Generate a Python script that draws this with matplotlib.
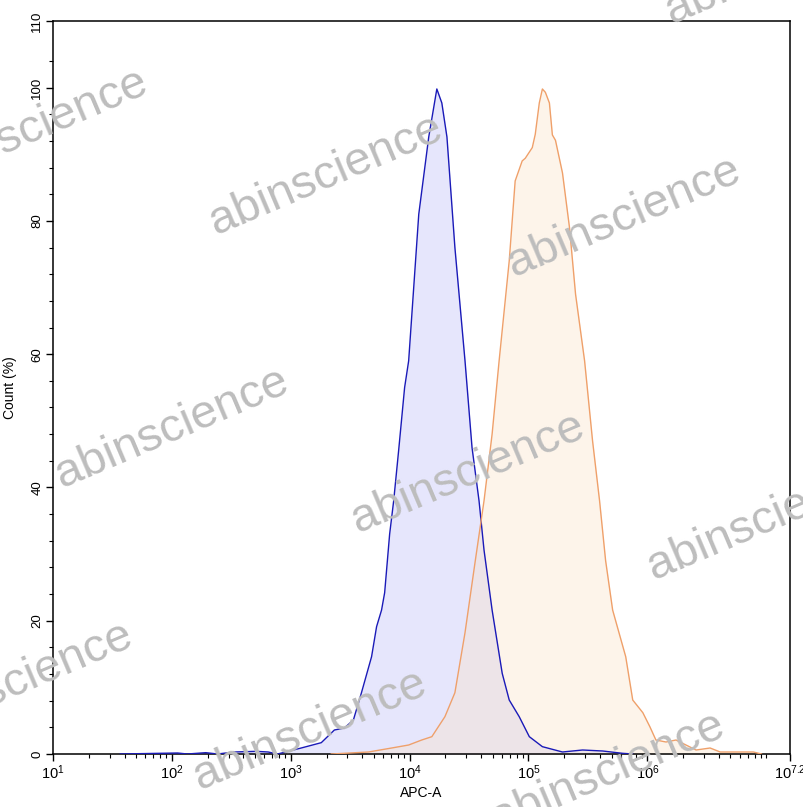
import numpy as np
import matplotlib
matplotlib.use("Agg")
import matplotlib.pyplot as plt
from matplotlib.ticker import FixedLocator, NullFormatter

plt.rcParams['font.family'] = ['Liberation Sans', 'DejaVu Sans']
plt.rcParams['mathtext.fontset'] = 'custom'
plt.rcParams['mathtext.rm'] = 'Liberation Sans'
plt.rcParams['mathtext.it'] = 'Liberation Sans:italic'

# blue histogram: log10(APC-A), count (%)
blue_log = [1.566, 2.048, 2.13, 2.285, 2.386, 2.52, 2.71, 2.81, 2.89, 3.0,
            3.088, 3.257, 3.367, 3.451, 3.527, 3.595, 3.680, 3.722, 3.764, 3.79,
            3.832, 3.866, 3.908, 3.958, 3.992, 4.077, 4.161, 4.229, 4.271, 4.314,
            4.381, 4.466, 4.525, 4.584, 4.626, 4.694, 4.779, 4.838, 4.922, 5.007,
            5.117, 5.286, 5.455, 5.624, 5.793, 5.877]
blue_pct = [0, 0.15, 0, 0.2, 0, 0.3, 0.4, 0.3, 0, 0.5,
            0.9, 1.7, 3.6, 3.9, 5.1, 9.2, 14.6, 19.1, 21.6, 24.2,
            33, 38, 45.6, 55, 59, 81, 92.6, 99.8, 97.7, 92.6,
            76, 59, 46, 38, 30.6, 21.6, 12.1, 8.1, 5.6, 2.6,
            1.1, 0.3, 0.6, 0.45, 0.1, 0]

# orange histogram
orange_log = [3.341, 3.654, 3.849, 3.992, 4.102, 4.187, 4.297, 4.381, 4.466, 4.550,
              4.626, 4.694, 4.753, 4.838, 4.888, 4.947, 4.973, 5.032, 5.057, 5.091,
              5.117, 5.142, 5.176, 5.201, 5.227, 5.286, 5.345, 5.396, 5.472, 5.539,
              5.598, 5.649, 5.708, 5.818, 5.877, 5.962, 6.021, 6.072, 6.157, 6.241,
              6.325, 6.410, 6.528, 6.613, 6.892, 6.96]
orange_pct = [0, 0.3, 0.9, 1.35, 2.1, 2.6, 5.6, 9.2, 18.2, 28.7,
              38, 48, 59, 74, 86, 89, 89.4, 91, 93, 97.7,
              99.8, 99.3, 97.7, 92.9, 92.1, 87.2, 79, 69, 59, 47,
              38, 29, 21.6, 14.6, 8.1, 6.2, 4.1, 2.1, 1.8, 2.1,
              1.35, 0.6, 0.9, 0.3, 0.3, 0]

x_major_exp = [1, 2, 3, 4, 5, 6, 7.2]
x_major_labels = ['1', '2', '3', '4', '5', '6', '7.2']
y_major = [0, 20, 40, 60, 80, 100, 110]

watermark_xy = [(31, 129), (326, 175), (624, 217), (782, -36),
                (172, 428), (468, 473), (764, 520), (922, 259),
                (16, 682), (310, 730), (608, 772)]

W, H = 804, 807
fig = plt.figure(figsize=(W / 100, H / 100), dpi=100)
ax = fig.add_axes([53 / W, 1 - 754 / H, (790 - 53) / W, (754 - 21) / H])

bx = 10 ** np.array(blue_log)
ox = 10 ** np.array(orange_log)
ax.fill_between(bx, blue_pct, 0, color='#E6E6FC', lw=0, zorder=1)
ax.fill_between(ox, orange_pct, 0, color='#FCE1C3', alpha=0.35, lw=0, zorder=2)
ax.plot(bx, blue_pct, color='#1A1AB8', lw=1.0, zorder=3)
ax.plot(ox, orange_pct, color='#EFA06A', lw=1.0, zorder=3)

ax.set_xscale('log')
ax.set_xlim(10, 10 ** 7.2)
ax.set_ylim(0, 110)

ax.xaxis.set_major_locator(FixedLocator([10 ** e for e in x_major_exp]))
ax.set_xticklabels(['$\\mathregular{10^{%s}}$' % s for s in x_major_labels])
minors = [m * 10 ** d for d in range(1, 7) for m in range(2, 10)] + [1e7]
ax.xaxis.set_minor_locator(FixedLocator(minors))
ax.xaxis.set_minor_formatter(NullFormatter())

ax.set_yticks(y_major)
ax.set_yticklabels([str(v) for v in y_major], rotation=90, va='center')
ax.yaxis.set_minor_locator(FixedLocator(list(range(0, 105, 4))))

ax.tick_params(axis='both', which='major', direction='out', length=5, width=1, pad=2)
ax.tick_params(axis='x', which='major', labelsize=10.5)
ax.tick_params(axis='y', which='major', labelsize=9.5)
ax.tick_params(axis='both', which='minor', direction='out', length=3, width=0.8)
for s in ax.spines.values():
    s.set_linewidth(1.1)

ax.set_xlabel('APC-A', fontsize=10, labelpad=3)
ax.set_ylabel('Count (%)', fontsize=10, labelpad=10)

for (px, py) in watermark_xy:
    fig.text(px / W, 1 - py / H, 'abinscience', fontsize=34, color='#BDBDBD',
             rotation=23, ha='center', va='center', rotation_mode='anchor',
             zorder=10)

fig.savefig('out.png', dpi=100)
